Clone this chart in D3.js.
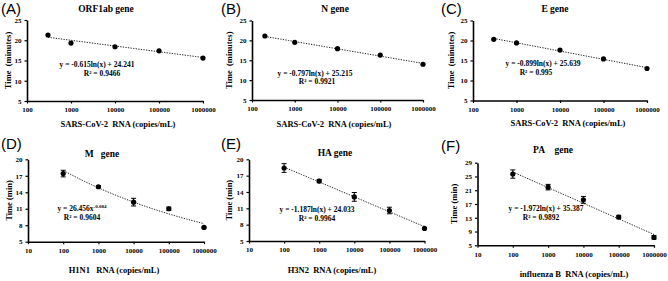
<!DOCTYPE html>
<html lang="en">
<head>
  <meta charset="UTF-8">
  <title>Time vs RNA concentration</title>
  <style>
    body {
      margin: 0;
      background: #fff;
      overflow: hidden;
    }
    svg {
      display: block;
    }
    .tick text {
      font-family: "Liberation Serif", "Times New Roman", serif;
      font-weight: bold;
      font-size: 7px;
      fill: #000;
    }
    .domain, .tick line {
      stroke: #000;
    }
    .serif {
      font-family: "Liberation Serif", "Times New Roman", serif;
      font-weight: bold;
      fill: #000;
    }
    .plabel {
      font-family: "Liberation Sans", Arial, sans-serif;
      font-size: 15px;
      fill: #000;
    }
  </style>
</head>
<body>
  <svg width="668" height="281"></svg>

  <script src="https://d3js.org/d3.v7.min.js"></script>
  <script>
    // panel texts
    const panelLabels = ["(A)", "(B)", "(C)", "(D)", "(E)", "(F)"];
    const geneTitles = ["ORF1ab gene", "N gene", "E gene", "M\u00a0\u00a0 gene", "HA gene", "PA\u00a0\u00a0\u00a0 gene"];
    const xTitles = [
      "SARS-CoV-2\u00a0 RNA (copies/mL)",
      "SARS-CoV-2\u00a0 RNA (copies/mL)",
      "SARS-CoV-2\u00a0 RNA (copies/mL)",
      "H1N1\u00a0\u00a0 RNA (copies/mL)",
      "H3N2\u00a0 RNA (copies/mL)",
      "influenza B\u00a0 RNA (copies/mL)"
    ];
    const yTitles = ["Time\u00a0 (minutes)", "Time\u00a0 (minutes)", "Time\u00a0 (minutes)",
                     "Time (min)", "Time (min)", "Time (min)"];

    // tick values
    const xTicksSars = [100, 1000, 10000, 100000, 1000000];
    const xTicksFlu = [10, 100, 1000, 10000, 100000, 1000000];
    const yTicksSars = [5, 10, 15, 20, 25];
    const yTicksMH = [5, 8, 11, 14, 17, 20];
    const yTicksPA = [5, 9, 13, 17, 21, 25, 29];

    // measured points
    const concA = [300, 1000, 10000, 100000, 1000000];
    const timeA = [21.3, 19.3, 18.4, 17.4, 15.6];
    const concB = [200, 1000, 10000, 100000, 1000000];
    const timeB = [21.1, 19.5, 17.9, 16.3, 14.0];
    const concC = [300, 1000, 10000, 100000, 1000000];
    const timeC = [20.3, 19.4, 17.6, 15.4, 13.0];
    const concD = [100, 1000, 10000, 100000, 1000000];
    const timeD = [17.4, 15.0, 12.2, 11.0, 7.6];
    const errD = [0.6, 0.2, 0.7, 0.3, 0.1];
    const concE = [100, 1000, 10000, 100000, 1000000];
    const timeE = [18.4, 16.0, 13.1, 10.6, 7.3];
    const errE = [0.8, 0.3, 0.8, 0.6, 0.1];
    const concF = [100, 1000, 10000, 100000, 1000000];
    const timeF = [25.7, 21.9, 18.2, 13.2, 7.3];
    const errF = [1.2, 0.8, 1.0, 0.5, 0.5];

    // trend line coefficients (as printed on the chart)
    const fitType = ["ln", "ln", "ln", "pow", "ln", "ln"];
    const fitA = [-0.615, -0.797, -0.899, 26.456, -1.187, -1.972];
    const fitB = [24.241, 25.215, 25.639, -0.084, 24.033, 35.387];
    const eqText = ["y = -0.615ln(x) + 24.241", "y = -0.797ln(x) + 25.215", "y = -0.899ln(x) + 25.639",
                    "y = 26.456x", "y = -1.187ln(x) + 24.033", "y = -1.972ln(x) + 35.387"];
    const r2Text = ["R\u00b2 = 0.9466", "R\u00b2 = 0.9921", "R\u00b2 = 0.995",
                    "R\u00b2 = 0.9604", "R\u00b2 = 0.9964", "R\u00b2 = 0.9892"];

    const panels = [
      {c: concA, t: timeA, e: null, xt: xTicksSars, yt: yTicksSars},
      {c: concB, t: timeB, e: null, xt: xTicksSars, yt: yTicksSars},
      {c: concC, t: timeC, e: null, xt: xTicksSars, yt: yTicksSars},
      {c: concD, t: timeD, e: errD, xt: xTicksFlu, yt: yTicksMH},
      {c: concE, t: timeE, e: errE, xt: xTicksFlu, yt: yTicksMH},
      {c: concF, t: timeF, e: errF, xt: xTicksFlu, yt: yTicksPA}
    ];

    // layout: plot area boxes and text anchors
    const boxes = [
      {l: 27, r: 203, t: 20, b: 101},
      {l: 252, r: 423, t: 20.5, b: 100},
      {l: 473, r: 647, t: 20.5, b: 100.5},
      {l: 28, r: 204, t: 159.3, b: 241.7},
      {l: 249, r: 424.5, t: 159.3, b: 241},
      {l: 477.5, r: 654, t: 162.7, b: 245.3}
    ];
    const titlePos = [[106, 12], [335, 12], [555, 12], [102, 157], [335, 156], [553, 153]];
    const xTitlePos = [[118, 127], [334, 127], [568, 126], [114, 273], [332, 273], [574, 277]];
    const yTitleX = [8, 229, 451, 9, 229, 454];
    const labelPos = [[1, 14], [221, 14], [441, 14], [1, 149], [221, 149], [441, 151]];
    const eqPos = [[97, 67], [315, 76], [543, 66], [82, 211], [317, 212], [546, 211]];
    const r2Pos = [[102, 76], [317, 84], [536, 75], [82, 220], [317, 221], [541, 220]];

    const svg = d3.select("svg");

    panels.forEach((p, i) => {
      const bx = boxes[i];
      const x = d3.scaleLog()
        .domain([p.xt[0], p.xt[p.xt.length - 1]])
        .range([bx.l, bx.r]);
      const y = d3.scaleLinear()
        .domain([p.yt[0], p.yt[p.yt.length - 1]])
        .range([bx.b, bx.t]);

      const g = svg.append("g");

      // axes
      g.append("g")
        .attr("transform", `translate(0,${bx.b})`)
        .call(d3.axisBottom(x).tickValues(p.xt).tickFormat(d3.format("d"))
          .tickSize(2.5).tickSizeOuter(0).tickPadding(4))
        .call(a => a.select(".domain").attr("stroke-width", 1.6));
      g.append("g")
        .attr("transform", `translate(${bx.l},0)`)
        .call(d3.axisLeft(y).tickValues(p.yt).tickSize(2.5).tickSizeOuter(0).tickPadding(3))
        .call(a => a.select(".domain").attr("stroke-width", 1.6));
      g.selectAll(".tick line").attr("stroke-width", 1.2);

      // trend line
      const f = fitType[i] === "ln"
        ? v => fitA[i] * Math.log(v) + fitB[i]
        : v => fitA[i] * Math.pow(v, fitB[i]);
      const x0 = p.c[0], x1 = p.c[p.c.length - 1];
      const xs = d3.range(0, 41).map(k => x0 * Math.pow(x1 / x0, k / 40));
      g.append("path")
        .datum(xs)
        .attr("fill", "none")
        .attr("stroke", "#222")
        .attr("stroke-width", 1)
        .attr("stroke-dasharray", "1.3,1.3")
        .attr("d", d3.line().x(d => x(d)).y(d => y(f(d))));

      // error bars
      if (p.e) {
        p.c.forEach((c, k) => {
          const cx = x(c), e = p.e[k];
          const yt = y(p.t[k] + e), yb = y(p.t[k] - e);
          g.append("line").attr("x1", cx).attr("x2", cx).attr("y1", yt).attr("y2", yb)
            .attr("stroke", "#000").attr("stroke-width", 1);
          [yt, yb].forEach(yy => {
            g.append("line").attr("x1", cx - 2.5).attr("x2", cx + 2.5).attr("y1", yy).attr("y2", yy)
              .attr("stroke", "#000").attr("stroke-width", 1);
          });
        });
      }

      // points
      g.selectAll("circle.pt")
        .data(p.c.map((c, k) => [c, p.t[k]]))
        .join("circle")
        .attr("class", "pt")
        .attr("cx", d => x(d[0]))
        .attr("cy", d => y(d[1]))
        .attr("r", 2.6)
        .attr("fill", "#000");

      // texts
      g.append("text").attr("class", "plabel")
        .attr("x", labelPos[i][0]).attr("y", labelPos[i][1])
        .text(panelLabels[i]);
      g.append("text").attr("class", "serif")
        .attr("x", titlePos[i][0]).attr("y", titlePos[i][1])
        .attr("text-anchor", "middle").attr("font-size", 9.5)
        .text(geneTitles[i]);
      g.append("text").attr("class", "serif")
        .attr("x", xTitlePos[i][0]).attr("y", xTitlePos[i][1])
        .attr("text-anchor", "middle").attr("font-size", 8.5)
        .text(xTitles[i]);
      g.append("text").attr("class", "serif")
        .attr("transform", `translate(${yTitleX[i]},${(bx.t + bx.b) / 2}) rotate(-90)`)
        .attr("text-anchor", "middle").attr("dy", "0.35em").attr("font-size", 8.5)
        .text(yTitles[i]);

      const eq = g.append("text").attr("class", "serif")
        .attr("x", eqPos[i][0]).attr("y", eqPos[i][1])
        .attr("text-anchor", "middle").attr("font-size", 7.5)
        .text(eqText[i]);
      if (fitType[i] === "pow") {
        eq.append("tspan").attr("dy", -3).attr("font-size", 5).text(String(fitB[i]));
      }
      g.append("text").attr("class", "serif")
        .attr("x", r2Pos[i][0]).attr("y", r2Pos[i][1])
        .attr("text-anchor", "middle").attr("font-size", 7.5)
        .text(r2Text[i]);
    });
  </script>
</body>
</html>
